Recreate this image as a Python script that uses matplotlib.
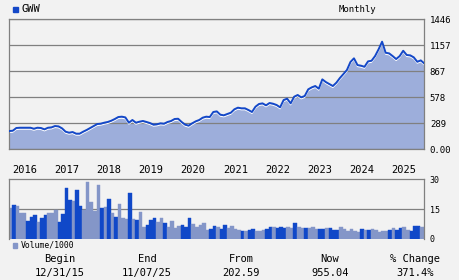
import matplotlib
matplotlib.use("Agg")
import matplotlib.pyplot as plt
import matplotlib.patches as mpatches
from matplotlib.transforms import blended_transform_factory, offset_copy
import numpy as np
import pandas as pd

TICKER = "GWW"
PERIOD = "Monthly"

# monthly closes, 12/2015 .. 11/2025
closes = [
    203, 207, 237, 240, 240, 240, 240, 229, 240, 237,
    222, 240, 244, 259, 255, 233, 196, 185, 192, 174,
    174, 196, 215, 237, 259, 281, 285, 296, 304, 318,
    337, 359, 363, 355, 296, 326, 296, 307, 315, 304,
    292, 274, 278, 289, 285, 304, 315, 337, 340, 304,
    274, 263, 289, 311, 326, 352, 363, 359, 415, 422,
    385, 378, 393, 407, 445, 463, 456, 456, 437, 415,
    474, 504, 511, 489, 515, 507, 493, 467, 548, 563,
    511, 585, 604, 578, 593, 667, 689, 704, 674, 778,
    748, 726, 704, 741, 793, 837, 882, 971, 1012, 937,
    930, 918, 978, 985, 1037, 1112, 1197, 1074, 1067, 1037,
    1004, 1037, 1096, 1049, 1045, 1023, 974, 989, 955,
]

# volume / 1000, shown on a 0-30 scale
volume = [
    15.3, 17, 16.5, 13, 13, 9.1, 11, 12, 8.4, 10.5,
    12, 13, 13, 14.5, 8.4, 12.6, 25.5, 19.5, 19, 24.5,
    16.5, 14.5, 28.5, 18.5, 14, 27, 15.5, 16, 20, 13,
    11, 17.5, 10.5, 10, 23, 10, 9.4, 13.4, 5.9, 6.9,
    9.4, 10.5, 8.4, 10.5, 7.9, 5.9, 8.9, 5.4, 6.4, 6.9,
    5.9, 10.5, 7.4, 5.9, 6.9, 7.9, 4.4, 4.9, 6.4, 5.9,
    4.9, 6.9, 5.4, 6.4, 4.9, 4.4, 3.9, 3.9, 4.4, 4.9,
    3.9, 3.9, 4.4, 4.9, 5.9, 5.9, 5.4, 5.9, 5.4, 5.9,
    5.4, 7.9, 5.9, 5.4, 5.4, 5.4, 5.9, 4.9, 4.9, 4.9,
    5.4, 5.4, 4.4, 4.4, 5.9, 4.9, 3.9, 4.9, 3.9, 3.4,
    4.9, 4.4, 4.4, 4.9, 4.4, 3.4, 3.9, 3.9, 4.4, 5.4,
    4.4, 5.4, 5.9, 4.4, 3.9, 6.4, 6.4, 5.9, 5.9,
]

# 1 = down month (dark bar)
vol_down = [
    0, 1, 0, 0, 0, 1, 1, 1, 0, 1,
    1, 0, 0, 0, 1, 1, 1, 1, 0, 1,
    1, 0, 0, 0, 0, 0, 1, 0, 1, 0,
    1, 0, 0, 0, 1, 0, 1, 0, 0, 1,
    1, 1, 0, 0, 1, 0, 0, 0, 0, 1,
    1, 1, 0, 0, 0, 0, 0, 1, 1, 0,
    1, 1, 0, 0, 0, 0, 1, 0, 1, 1,
    0, 0, 0, 1, 1, 0, 1, 1, 1, 0,
    0, 1, 0, 0, 1, 0, 0, 0, 1, 1,
    0, 1, 1, 1, 0, 0, 0, 0, 0, 0,
    1, 0, 1, 0, 0, 0, 0, 0, 1, 0,
    1, 1, 0, 0, 1, 1, 1, 0, 0,
]

price_ticks = [0, 289, 578, 867, 1157, 1446]
price_tick_labels = ["0.00", "289", "578", "867", "1157", "1446"]
vol_ticks = [0, 15, 30]

stat_heads = ["Begin", "End", "From", "Now", "% Change"]
stat_vals = ["12/31/15", "11/07/25", "202.59", "955.04", "371.4%"]

BG = "#f2f2f2"
GRID = "#808080"
C_LINE = "#1448c8"
C_FILL = "#9daedb"
C_DOWN = "#1048c8"
C_UP = "#8496c8"
FONT = "DejaVu Sans Mono"

W, H = 460, 280


def px_box(left, top, right, bottom):
    return [left / W, 1 - bottom / H, (right - left) / W, (bottom - top) / H]


fig = plt.figure(figsize=(W / 100, H / 100), dpi=100, facecolor=BG)
plt.rcParams["font.family"] = FONT

n = len(closes)
x = np.arange(n)
months = pd.date_range("2015-12-31", periods=n, freq="ME")

# price panel
ax = fig.add_axes(px_box(9.3, 19.3, 424.3, 149.3))
ax.set_facecolor(BG)
ax.fill_between(x, 0, closes, color=C_FILL, lw=0, zorder=1)
shadow = offset_copy(ax.transData, fig=fig, x=0, y=-1.5, units="dots")
ax.plot(x, closes, color="white", lw=0.8, transform=shadow, zorder=2)
ax.plot(x, closes, color=C_LINE, lw=1.4, zorder=3)
ax.set_xlim(0, n - 1)
ax.set_ylim(0, 1446)
ax.set_yticks(price_ticks)
ax.set_yticklabels(price_tick_labels)
ax.yaxis.tick_right()
ax.tick_params(axis="y", length=0, pad=4, labelsize=6.5)
ax.set_xticks([])
ax.grid(axis="y", color=GRID, lw=0.9, zorder=0)
for s in ax.spines.values():
    s.set_color(GRID)
    s.set_linewidth(0.9)

# year labels
tr = blended_transform_factory(ax.transData, fig.transFigure)
for i, m in enumerate(months):
    if m.month == 1:
        ax.text(i - 0.3, 1 - 170 / H, str(m.year), transform=tr,
                ha="left", va="center", fontsize=7.5, clip_on=False)

# volume panel
vax = fig.add_axes(px_box(9.3, 179.3, 424.3, 238.8))
vax.set_facecolor(BG)
colors = [C_DOWN if d else C_UP for d in vol_down]
vax.bar(x + 0.3, volume, width=1.0, color=colors, edgecolor=colors,
        lw=0.3, zorder=2)
vax.set_xlim(0, n - 1)
vax.set_ylim(0, 30)
vax.set_yticks(vol_ticks)
vax.yaxis.tick_right()
vax.tick_params(axis="y", length=0, pad=4, labelsize=6)
vax.set_xticks([])
vax.axhline(15, color=GRID, lw=0.9, zorder=1)
for k, s in vax.spines.items():
    s.set_color(GRID)
    s.set_linewidth(0.9)
vax.spines["bottom"].set_visible(False)

# legends
fig.patches.append(mpatches.Rectangle((12.7 / W, 1 - 11.7 / H), 5 / W, 5 / H,
                                      transform=fig.transFigure, color=C_LINE))
fig.text(21.5 / W, 1 - 9.5 / H, TICKER, fontsize=7.5, va="center", ha="left")
fig.text(357 / W, 1 - 9.5 / H, PERIOD, fontsize=6.5, va="center", ha="center")
fig.patches.append(mpatches.Rectangle((12.7 / W, 1 - 248 / H), 4.6 / W, 4.6 / H,
                                      transform=fig.transFigure, color=C_UP))
fig.text(20.5 / W, 1 - 245.5 / H, "Volume/1000", fontsize=5.9, va="center", ha="left")

# stats row
for cx, head, val in zip([60, 147, 241, 330, 415], stat_heads, stat_vals):
    fig.text(cx / W, 1 - 259 / H, head, fontsize=7.5, ha="center", va="center")
    fig.text(cx / W, 1 - 273 / H, val, fontsize=7.5, ha="center", va="center")

fig.savefig("out.png", dpi=100, facecolor=BG)
